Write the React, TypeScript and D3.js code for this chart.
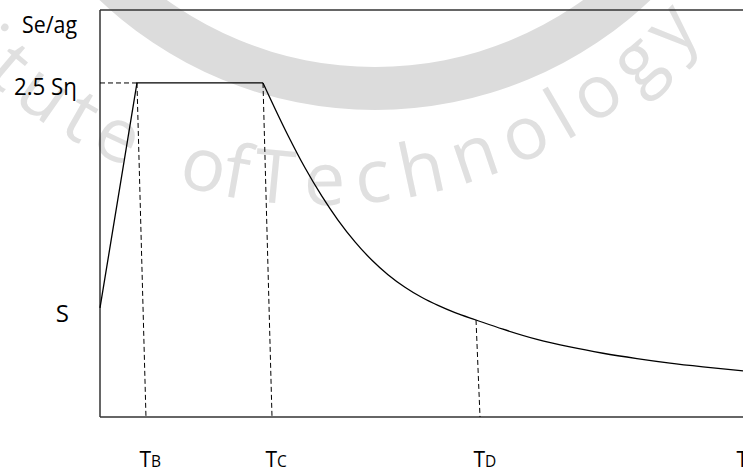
import React from "react";
import * as d3 from "d3";

// ---- data (arbitrary period units / spectral ratio units) ----
const riseT = [0, 0.575, 2.535];
const riseSe = [0.816, 2.5, 2.5];

const decayT = [2.535, 2.924, 3.188, 3.453, 3.701, 3.966, 4.23, 4.479, 4.743, 5.008, 5.257, 5.521, 5.848, 6.267, 6.796, 7.309, 7.823, 8.351, 8.865, 9.378, 10.0];
const decaySe = [2.5, 2.107, 1.865, 1.651, 1.474, 1.311, 1.173, 1.065, 0.971, 0.894, 0.835, 0.781, 0.726, 0.657, 0.581, 0.524, 0.477, 0.437, 0.403, 0.375, 0.345];

const cornerT = [0.575, 2.535, 5.848];
const cornerSe = [2.5, 2.5, 0.726];
const footT = [0.715, 2.675, 5.91];

const periodMain = ["T", "T", "T", "T"];
const periodSub = ["B", "C", "D", ""];
const periodLabelT = [0.715, 2.675, 5.91, 10.0];

const ordinateLabels = ["Se/ag", "2.5 Sη", "S"];
const ordinateValues = [3.046, 2.5, 0.816];

const watermarkWords = ["Institute", "of", "Technology"];
const watermarkFrom = [154, 106.5, 97.8]; // degrees along the circle
const watermarkTo = [112.5, 98.6, 41];

const W = 743;
const H = 470;

export default function App() {
  const x = d3.scaleLinear().domain([0, 10]).range([100, 743]);
  const y = d3.scaleLinear().domain([0, 3.046]).range([417, 10]);

  const linear = d3
    .line<number>()
    .x((_, i) => x(riseT[i]))
    .y((d) => y(d));
  const smooth = d3
    .line<number>()
    .x((_, i) => x(decayT[i]))
    .y((d) => y(d))
    .curve(d3.curveMonotoneX);

  // watermark ring
  const ring = d3.arc()({
    innerRadius: 357,
    outerRadius: 400,
    startAngle: 0,
    endAngle: 2 * Math.PI,
  } as any) as string;

  // watermark text path (baseline circle)
  const cx = 320,
    cy = -300,
    r = 505;
  const startDeg = 170;
  const tp = d3.path();
  const a0 = (startDeg * Math.PI) / 180;
  const a1 = (10 * Math.PI) / 180;
  tp.moveTo(cx + r * Math.cos(a0), cy + r * Math.sin(a0));
  tp.arc(cx, cy, r, a0, a1, true);
  const arcLen = (deg: number) => (deg * Math.PI * r) / 180;

  const font = "'Open Sans', 'DejaVu Sans', sans-serif";
  const ordX = [77, 77, 69];
  const ordDy = [23, 12, 14];
  const ordLen = [55, 63, 0];

  return (
    <svg
      width={W}
      height={H}
      viewBox={`0 0 ${W} ${H}`}
      style={{ position: "absolute", left: 0, top: 0, display: "block", background: "#fff" }}
    >
      <defs>
        <path id="wmPath" d={tp.toString()} />
      </defs>
      {/* watermark */}
      <g>
        <path d={ring} transform="translate(375,-290)" fill="#dcdcdc" />
        {watermarkWords.map((w, i) => (
          <text key={w} fontFamily={font} fontSize={74} fill="#e0e0e0">
            <textPath
              href="#wmPath"
              startOffset={arcLen(startDeg - watermarkFrom[i])}
              textLength={arcLen(watermarkFrom[i] - watermarkTo[i])}
              lengthAdjust="spacing"
            >
              {w}
            </textPath>
          </text>
        ))}
      </g>

      {/* frame */}
      <line x1={100} x2={743} y1={10} y2={10} stroke="#333" strokeWidth={1.5} />
      <line x1={100} x2={100} y1={10} y2={417} stroke="#333" strokeWidth={1.5} />
      <line x1={100} x2={743} y1={417} y2={417} stroke="#333" strokeWidth={1.5} />

      {/* dashed guides */}
      <line
        x1={x(0)}
        x2={x(cornerT[0])}
        y1={y(cornerSe[0])}
        y2={y(cornerSe[0])}
        stroke="#000"
        strokeWidth={1}
        strokeDasharray="5,3"
      />
      {cornerT.map((t, i) => (
        <line
          key={i}
          x1={x(t)}
          y1={y(cornerSe[i])}
          x2={x(footT[i])}
          y2={y(0)}
          stroke="#000"
          strokeWidth={1}
          strokeDasharray="5,3"
        />
      ))}

      {/* spectrum */}
      <path d={linear(riseSe) || ""} fill="none" stroke="#000" strokeWidth={1.3} />
      <path d={smooth(decaySe) || ""} fill="none" stroke="#000" strokeWidth={1.3} />

      {/* ordinate labels */}
      {ordinateLabels.map((l, i) => (
        <text
          key={l}
          x={ordX[i]}
          y={y(ordinateValues[i]) + ordDy[i]}
          textAnchor="end"
          fontFamily={font}
          fontSize={24}
          fill="#000"
          {...(ordLen[i] ? { textLength: ordLen[i], lengthAdjust: "spacingAndGlyphs" } : {})}
        >
          {l}
        </text>
      ))}

      {/* period labels */}
      {periodMain.map((m, i) => (
        <text
          key={i}
          x={x(periodLabelT[i]) - 6.5}
          y={467}
          fontFamily={font}
          fontSize={21}
          fill="#000"
        >
          {m}
          <tspan fontSize={15.5}>{periodSub[i]}</tspan>
        </text>
      ))}
    </svg>
  );
}
